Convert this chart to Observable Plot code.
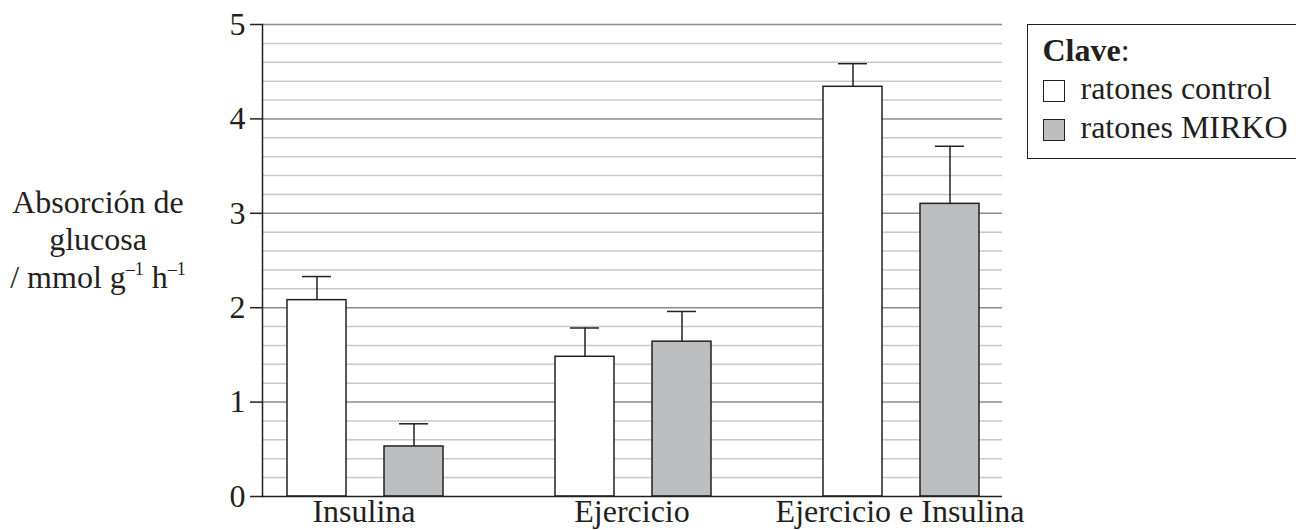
<!DOCTYPE html>
<html><head><meta charset="utf-8">
<script src="https://cdn.jsdelivr.net/npm/d3@7"></script>
<script src="https://cdn.jsdelivr.net/npm/@observablehq/plot@0.6"></script>
<style>
body{margin:0;background:#fff;}
#wrap{position:relative;width:1296px;height:530px;overflow:hidden;font-family:"Liberation Serif","Times New Roman",serif;color:#231f20;}
#wrap svg{position:absolute;left:0;top:0;}
#ylabel{position:absolute;left:0;width:196px;top:183.5px;text-align:center;font-size:32px;line-height:37.5px;}
#ylabel sup{font-size:18px;line-height:0;vertical-align:0;position:relative;top:-13px;}
#legend{position:absolute;left:1027px;top:23.5px;width:300px;height:127px;padding:6px 0 0 14.5px;border:1.5px solid #231f20;font-size:32px;line-height:38.5px;box-sizing:content-box;}
#legend .sw{display:inline-block;width:20px;height:20px;border:1.5px solid #231f20;vertical-align:-3px;margin-right:16px;}
</style></head>
<body><div id="wrap"></div>
<script>
const groups = ["Insulina", "Ejercicio", "Ejercicio e Insulina"];
const series = ["ratones control", "ratones MIRKO"];
const seriesColors = ["#ffffff", "#bcbec0"];
const controlValues = [2.08, 1.48, 4.34];
const controlErrors = [0.25, 0.305, 0.245];
const mirkoValues = [0.53, 1.64, 3.10];
const mirkoErrors = [0.24, 0.32, 0.61];
const yTicks = [0, 1, 2, 3, 4, 5];
const yMajorGrid = [1, 2, 3, 4, 5];
const yMinorGrid = [0.2, 0.4, 0.6, 0.8, 1.2, 1.4, 1.6, 1.8, 2.2, 2.4, 2.6, 2.8, 3.2, 3.4, 3.6, 3.8, 4.2, 4.4, 4.6, 4.8];
const yLabelLines = ["Absorción de", "glucosa", "/ mmol g<sup>–1</sup> h<sup>–1</sup>"];
const legendTitle = "Clave";

const data = groups.flatMap((g, i) => [
  {group: g, series: series[0], value: controlValues[i], top: controlValues[i] + controlErrors[i]},
  {group: g, series: series[1], value: mirkoValues[i], top: mirkoValues[i] + mirkoErrors[i]}
]);

const ink = "#231f20";
const common = {
  width: 1296, height: 530,
  marginLeft: 262, marginRight: 294, marginTop: 24, marginBottom: 34,
  style: {fontFamily: '"Liberation Serif", "Times New Roman", serif', background: "transparent", color: ink, overflow: "visible"},
  y: {domain: [0, 5], axis: null}
};

// background: grid, y axis
const back = Plot.plot({
  ...common,
  x: {axis: null},
  marks: [
    Plot.ruleY(yMinorGrid, {stroke: "#c8c8c8", strokeWidth: 1.5}),
    Plot.ruleY(yMajorGrid, {stroke: "#8c8c8c", strokeWidth: 1.5}),
    Plot.axisY({ticks: yTicks, tickSize: 12, tickPadding: 5, fontSize: 32, label: null, stroke: ink, strokeWidth: 1.5, tickFormat: d => String(d)}),
    Plot.frame({anchor: "left", stroke: ink, strokeWidth: 1.5})
  ]
});

// foreground: grouped bars with error bars
const front = Plot.plot({
  ...common,
  fx: {domain: groups, paddingInner: 0.2414, paddingOuter: 0, align: 0, label: null},
  x: {domain: series, paddingInner: 0.39, paddingOuter: 0.2386, align: 0.54, axis: null},
  color: {domain: series, range: seriesColors},
  marks: [
    Plot.barY(data, {fx: "group", x: "series", y: "value", fill: "series", stroke: ink, strokeWidth: 1.5}),
    Plot.ruleX(data, {fx: "group", x: "series", y1: "value", y2: "top", stroke: ink, strokeWidth: 1.5}),
    Plot.tickY(data, {fx: "group", x: "series", y: "top", stroke: ink, strokeWidth: 1.5, insetLeft: 15, insetRight: 15}),
    Plot.axisFx({anchor: "bottom", tickSize: 0, tickPadding: 3, fontSize: 32, label: null})
  ]
});

// baseline on top, spanning the whole frame
const base = Plot.plot({
  ...common,
  x: {axis: null},
  marks: [Plot.ruleY([0], {stroke: ink, strokeWidth: 1.5})]
});

const wrap = document.getElementById("wrap");
wrap.appendChild(back);
wrap.appendChild(front);
wrap.appendChild(base);

const yl = document.createElement("div");
yl.id = "ylabel";
yl.innerHTML = yLabelLines.join("<br>");
wrap.appendChild(yl);

const lg = document.createElement("div");
lg.id = "legend";
lg.innerHTML = `<div><b>${legendTitle}</b>:</div>` +
  series.map((s, i) => `<div><span class="sw" style="background:${seriesColors[i]}"></span>${s}</div>`).join("");
wrap.appendChild(lg);
</script>
</body></html>
